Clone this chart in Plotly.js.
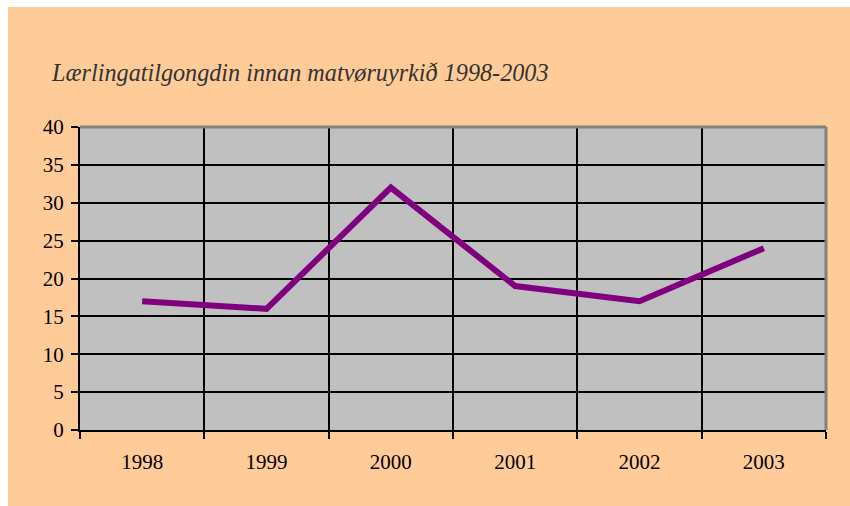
<!DOCTYPE html>
<html><head><meta charset="utf-8">
<script src="https://cdn.plot.ly/plotly-3.0.1.min.js"></script>
<style>
html,body{margin:0;padding:0;background:#ffffff;width:850px;height:506px;overflow:hidden;}
#chart{position:absolute;left:8px;top:7px;width:842px;height:499px;}
</style></head>
<body><div id="chart"></div>
<script>
const years = ['1998','1999','2000','2001','2002','2003'];
const apprentices = [17, 16, 32, 19, 17, 24];
const yTicks = [0,5,10,15,20,25,30,35,40];
const titleText = 'Lærlingatilgongdin innan matvøruyrkið 1998-2003';

const trace = {
  x: years, y: apprentices, type: 'scatter', mode: 'lines',
  line: {color: '#800080', width: 6, shape: 'linear'},
  hoverinfo: 'skip'
};
const serif = '"Liberation Serif", "Times New Roman", serif';
const layout = {
  width: 842, height: 499,
  paper_bgcolor: '#FFCC99', plot_bgcolor: '#C0C0C0',
  margin: {l: 72, r: 24, t: 120, b: 76},
  showlegend: false,
  title: {text: titleText, x: 44/842, xanchor: 'left', y: 1 - 66/499, yanchor: 'middle',
    font: {family: serif, size: 24.2, color: '#333333', style: 'italic'}},
  xaxis: {type: 'category', range: [-0.5, 5.5], tickson: 'boundaries',
    showgrid: true, gridcolor: '#000000', gridwidth: 2,
    showline: true, linecolor: '#000000', linewidth: 2,
    ticks: 'outside', ticklen: 7, tickwidth: 2, tickcolor: '#000000',
    ticklabelstandoff: 12,
    tickfont: {family: serif, size: 21, color: '#000000'}, zeroline: false, fixedrange: true},
  yaxis: {range: [0, 40], tickvals: yTicks, ticktext: yTicks.map(String),
    showgrid: true, gridcolor: '#000000', gridwidth: 2,
    showline: true, linecolor: '#000000', linewidth: 2,
    ticks: 'outside', ticklen: 7, tickwidth: 2, tickcolor: '#000000',
    ticklabelstandoff: 3,
    tickfont: {family: serif, size: 21, color: '#000000'}, zeroline: false, fixedrange: true},
  shapes: [
    {type: 'line', xref: 'paper', yref: 'paper', x0: 0, x1: 1, y0: 1, y1: 1,
     line: {color: '#808080', width: 3}, layer: 'above'},
    {type: 'line', xref: 'paper', yref: 'paper', x0: 1, x1: 1, y0: 0, y1: 1,
     line: {color: '#808080', width: 3}, layer: 'above'}
  ]
};
Plotly.newPlot('chart', [trace], layout, {staticPlot: true, displayModeBar: false});
</script></body></html>
